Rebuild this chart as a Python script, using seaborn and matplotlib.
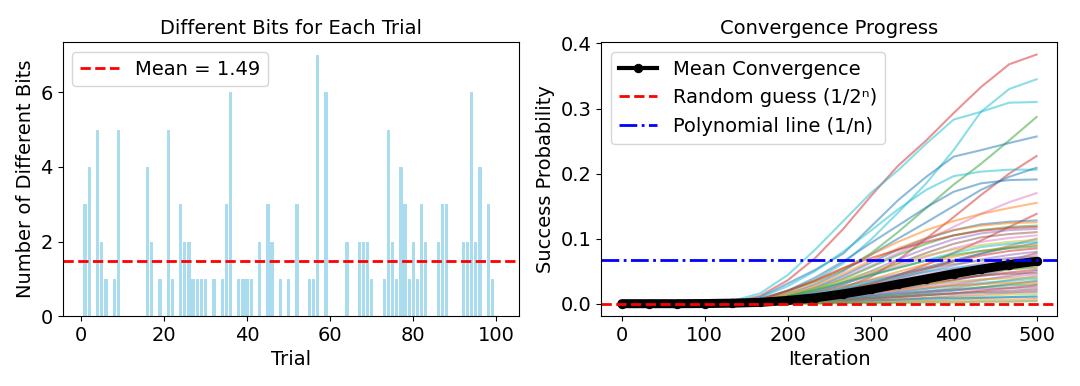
import matplotlib
matplotlib.use("Agg")
import matplotlib.pyplot as plt
import numpy as np
import pandas as pd
import seaborn as sns

# ---- left panel: different bits per trial (trials 1..100) ----
trials = list(range(1, 101))
bit_values = {
    1: 3, 2: 4, 4: 5, 5: 2, 6: 1, 8: 1, 9: 5, 16: 4, 17: 2, 19: 1, 21: 5, 22: 1,
    24: 3, 25: 2, 26: 2, 27: 1, 28: 1, 29: 1, 30: 1, 32: 1, 34: 1, 35: 3, 36: 6,
    38: 1, 39: 1, 40: 1, 41: 1, 43: 2, 45: 3, 46: 2, 48: 1, 50: 1, 52: 3, 55: 1,
    56: 1, 57: 7, 59: 6, 64: 2, 67: 2, 68: 2, 69: 2, 70: 1, 73: 1, 74: 5, 75: 2,
    76: 1, 77: 4, 78: 3, 79: 1, 80: 2, 81: 1, 82: 3, 83: 2, 86: 2, 87: 3, 88: 3,
    92: 2, 93: 2, 94: 6, 95: 2, 96: 4, 98: 3, 99: 1,
}
different_bits = [bit_values.get(t, 0) for t in trials]

# ---- right panel: convergence curves ----
iterations = [0, 33, 67, 100, 133, 167, 200, 233, 267, 300, 333, 367, 400, 433, 467, 500]

# the clearly visible top curves
top_curves = [
    [0, 0, 0, 0, 0.002, 0.012, 0.036, 0.070, 0.115, 0.165, 0.212, 0.251, 0.293, 0.333, 0.368, 0.383],
    [0, 0, 0, 0.001, 0.004, 0.016, 0.044, 0.083, 0.127, 0.170, 0.205, 0.246, 0.283, 0.295, 0.309, 0.310],
    [0, 0, 0, 0, 0.001, 0.006, 0.018, 0.036, 0.062, 0.098, 0.140, 0.185, 0.236, 0.295, 0.330, 0.345],
    [0, 0, 0, 0, 0.001, 0.006, 0.020, 0.034, 0.052, 0.077, 0.110, 0.147, 0.183, 0.215, 0.251, 0.287],
    [0, 0, 0, 0, 0.002, 0.010, 0.031, 0.052, 0.077, 0.118, 0.159, 0.195, 0.226, 0.236, 0.247, 0.257],
    [0, 0, 0, 0, 0, 0.002, 0.006, 0.013, 0.024, 0.041, 0.067, 0.100, 0.133, 0.167, 0.200, 0.227],
    [0, 0, 0, 0, 0.002, 0.009, 0.027, 0.050, 0.080, 0.112, 0.145, 0.175, 0.196, 0.203, 0.206, 0.206],
    [0, 0, 0, 0, 0.001, 0.005, 0.015, 0.030, 0.050, 0.075, 0.100, 0.125, 0.150, 0.175, 0.195, 0.209],
    [0, 0, 0, 0, 0.001, 0.007, 0.020, 0.040, 0.065, 0.093, 0.120, 0.148, 0.172, 0.185, 0.190, 0.191],
    [0, 0, 0, 0, 0.001, 0.004, 0.012, 0.024, 0.040, 0.058, 0.078, 0.098, 0.118, 0.138, 0.156, 0.170],
    [0, 0, 0, 0, 0.001, 0.006, 0.018, 0.034, 0.054, 0.075, 0.095, 0.113, 0.127, 0.138, 0.147, 0.155],
    [0, 0, 0, 0, 0, 0.002, 0.005, 0.011, 0.019, 0.030, 0.044, 0.060, 0.078, 0.097, 0.118, 0.138],
]
top_colors = ["#d62728", "#17becf", "#17becf", "#2ca02c", "#1f77b4", "#d62728",
              "#17becf", "#1f77b4", "#1f77b4", "#e377c2", "#ff7f0e", "#d62728"]

# the crowded band between 0.07 and 0.13
middle_curves = [
    [0, 0, 0, 0, 0.001, 0.004, 0.012, 0.025, 0.043, 0.063, 0.083, 0.100, 0.113, 0.122, 0.126, 0.128],
    [0, 0, 0, 0, 0.001, 0.005, 0.014, 0.028, 0.046, 0.066, 0.085, 0.101, 0.113, 0.120, 0.124, 0.125],
    [0, 0, 0, 0, 0.001, 0.004, 0.011, 0.022, 0.038, 0.056, 0.075, 0.092, 0.105, 0.113, 0.118, 0.120],
    [0, 0, 0, 0, 0.002, 0.007, 0.020, 0.036, 0.055, 0.070, 0.083, 0.095, 0.105, 0.112, 0.116, 0.118],
    [0, 0, 0, 0, 0.001, 0.003, 0.009, 0.019, 0.033, 0.050, 0.068, 0.085, 0.099, 0.108, 0.113, 0.115],
    [0, 0, 0, 0, 0.001, 0.003, 0.008, 0.017, 0.030, 0.046, 0.062, 0.078, 0.092, 0.102, 0.107, 0.110],
    [0, 0, 0, 0, 0.001, 0.003, 0.009, 0.018, 0.030, 0.044, 0.058, 0.072, 0.085, 0.095, 0.101, 0.105],
    [0, 0, 0, 0, 0, 0.001, 0.004, 0.009, 0.017, 0.027, 0.039, 0.052, 0.065, 0.077, 0.089, 0.100],
    [0, 0, 0, 0, 0.001, 0.005, 0.013, 0.024, 0.036, 0.049, 0.062, 0.074, 0.083, 0.090, 0.095, 0.098],
    [0, 0, 0, 0, 0.001, 0.004, 0.011, 0.020, 0.031, 0.043, 0.055, 0.067, 0.078, 0.087, 0.092, 0.095],
    [0, 0, 0, 0, 0, 0.003, 0.007, 0.014, 0.022, 0.033, 0.044, 0.056, 0.067, 0.077, 0.086, 0.093],
    [0, 0, 0, 0, 0.001, 0.003, 0.008, 0.016, 0.026, 0.037, 0.049, 0.061, 0.072, 0.081, 0.087, 0.090],
    [0, 0, 0, 0, 0.001, 0.004, 0.011, 0.021, 0.033, 0.044, 0.055, 0.066, 0.075, 0.081, 0.085, 0.088],
    [0, 0, 0, 0, 0, 0.002, 0.006, 0.012, 0.021, 0.031, 0.042, 0.054, 0.065, 0.074, 0.081, 0.085],
    [0, 0, 0, 0, 0, 0.002, 0.005, 0.011, 0.019, 0.028, 0.038, 0.049, 0.059, 0.068, 0.075, 0.080],
    [0, 0, 0, 0, 0, 0.001, 0.003, 0.007, 0.012, 0.020, 0.027, 0.036, 0.045, 0.055, 0.066, 0.078],
    [0, 0, 0, 0, 0, 0.002, 0.005, 0.010, 0.017, 0.026, 0.035, 0.045, 0.054, 0.062, 0.069, 0.075],
    [0, 0, 0, 0, 0.001, 0.004, 0.009, 0.017, 0.027, 0.036, 0.045, 0.054, 0.061, 0.066, 0.070, 0.072],
    [0, 0, 0, 0, 0, 0.002, 0.005, 0.010, 0.016, 0.024, 0.032, 0.041, 0.049, 0.056, 0.063, 0.068],
]

# the curves under the mean line
lower_curves = [
    [0, 0, 0, 0, 0.001, 0.003, 0.008, 0.016, 0.024, 0.033, 0.041, 0.049, 0.055, 0.060, 0.063, 0.065],
    [0, 0, 0, 0, 0, 0.001, 0.002, 0.006, 0.010, 0.016, 0.022, 0.029, 0.036, 0.044, 0.053, 0.062],
    [0, 0, 0, 0, 0, 0.002, 0.005, 0.009, 0.014, 0.020, 0.027, 0.035, 0.042, 0.048, 0.053, 0.058],
    [0, 0, 0, 0, 0.001, 0.003, 0.007, 0.013, 0.020, 0.028, 0.035, 0.041, 0.047, 0.051, 0.053, 0.055],
    [0, 0, 0, 0, 0, 0.002, 0.004, 0.008, 0.012, 0.018, 0.024, 0.031, 0.037, 0.043, 0.048, 0.052],
    [0, 0, 0, 0, 0, 0.001, 0.002, 0.005, 0.008, 0.013, 0.018, 0.023, 0.029, 0.036, 0.043, 0.050],
    [0, 0, 0, 0, 0, 0.002, 0.006, 0.011, 0.017, 0.024, 0.030, 0.035, 0.040, 0.043, 0.046, 0.047],
    [0, 0, 0, 0, 0, 0.001, 0.004, 0.007, 0.011, 0.016, 0.021, 0.027, 0.032, 0.037, 0.041, 0.045],
    [0, 0, 0, 0, 0, 0, 0.002, 0.004, 0.007, 0.011, 0.015, 0.019, 0.024, 0.030, 0.036, 0.042],
    [0, 0, 0, 0, 0, 0.002, 0.005, 0.010, 0.015, 0.020, 0.025, 0.030, 0.034, 0.037, 0.039, 0.040],
    [0, 0, 0, 0, 0, 0.001, 0.003, 0.006, 0.009, 0.013, 0.018, 0.023, 0.027, 0.032, 0.035, 0.038],
    [0, 0, 0, 0, 0, 0, 0.001, 0.003, 0.006, 0.009, 0.012, 0.016, 0.020, 0.025, 0.030, 0.035],
    [0, 0, 0, 0, 0, 0.002, 0.004, 0.008, 0.012, 0.017, 0.021, 0.025, 0.028, 0.030, 0.032, 0.033],
    [0, 0, 0, 0, 0, 0.001, 0.002, 0.005, 0.007, 0.011, 0.014, 0.018, 0.022, 0.025, 0.028, 0.030],
    [0, 0, 0, 0, 0, 0, 0.001, 0.003, 0.004, 0.007, 0.010, 0.013, 0.016, 0.020, 0.024, 0.028],
    [0, 0, 0, 0, 0, 0.001, 0.003, 0.006, 0.009, 0.013, 0.016, 0.019, 0.021, 0.023, 0.024, 0.025],
    [0, 0, 0, 0, 0, 0.001, 0.002, 0.003, 0.005, 0.008, 0.010, 0.013, 0.016, 0.018, 0.020, 0.022],
    [0, 0, 0, 0, 0, 0, 0.001, 0.002, 0.003, 0.005, 0.007, 0.009, 0.012, 0.014, 0.017, 0.020],
    [0, 0, 0, 0, 0, 0.001, 0.002, 0.004, 0.007, 0.009, 0.011, 0.014, 0.015, 0.017, 0.017, 0.018],
    [0, 0, 0, 0, 0, 0, 0.001, 0.002, 0.004, 0.005, 0.007, 0.009, 0.011, 0.012, 0.014, 0.015],
    [0, 0, 0, 0, 0, 0, 0, 0.001, 0.002, 0.003, 0.004, 0.006, 0.007, 0.009, 0.010, 0.012],
    [0, 0, 0, 0, 0, 0.001, 0.001, 0.002, 0.004, 0.005, 0.006, 0.008, 0.009, 0.009, 0.010, 0.010],
    [0, 0, 0, 0, 0, 0, 0.001, 0.001, 0.002, 0.002, 0.003, 0.004, 0.005, 0.006, 0.006, 0.007],
    [0, 0, 0, 0, 0, 0, 0, 0, 0.001, 0.001, 0.001, 0.002, 0.002, 0.003, 0.003, 0.004],
]

mean_curve = [0, 0, 0, 0.0002, 0.0008, 0.002, 0.005, 0.009, 0.015, 0.022, 0.030, 0.038, 0.046, 0.053, 0.060, 0.065]

n_qubits = 15

tab10 = sns.color_palette("tab10").as_hex()

curves = top_curves + middle_curves + lower_curves
colors = top_colors + [tab10[i % 10] for i in range(len(middle_curves) + len(lower_curves))]

rows = []
for k, curve in enumerate(curves):
    for it, p in zip(iterations, curve):
        rows.append({"trial": k, "iteration": it, "prob": p})
curve_df = pd.DataFrame(rows)

plt.rcParams["font.size"] = 14

fig, (ax1, ax2) = plt.subplots(1, 2, figsize=(10.8, 3.86), dpi=100)
fig.subplots_adjust(left=0.058, right=0.979, bottom=0.181, top=0.891, wspace=0.18)

# left
sns.barplot(x=trials, y=different_bits, native_scale=True, color="skyblue",
            alpha=0.7, saturation=1, errorbar=None, ax=ax1)
mean_bits = np.mean(different_bits)
ax1.axhline(mean_bits, color="red", linestyle="--", linewidth=2,
            label=f"Mean = {mean_bits:.2f}")
ax1.set_title("Different Bits for Each Trial", fontsize=14)
ax1.set_xlabel("Trial")
ax1.set_ylabel("Number of Different Bits")
ax1.set_xticks([0, 20, 40, 60, 80, 100])
ax1.set_yticks([0, 2, 4, 6])
ax1.set_xlim(-4.4, 105.4)
ax1.legend(loc="upper left")

# right
sns.lineplot(data=curve_df, x="iteration", y="prob", hue="trial", palette=colors,
             estimator=None, legend=False, alpha=0.5, linewidth=1.5, ax=ax2)
# thick band behind the mean markers
ax2.plot(iterations, mean_curve, color="black", linewidth=6.5,
         solid_capstyle="round", solid_joinstyle="round")
sns.lineplot(x=iterations, y=mean_curve, color="black", linewidth=3, marker="o",
             markersize=6, markeredgecolor="black", label="Mean Convergence", ax=ax2)
ax2.axhline(1 / 2 ** n_qubits, color="red", linestyle="--", linewidth=2,
            label="Random guess (1/2\u207f)")
ax2.axhline(1 / n_qubits, color="blue", linestyle="-.", linewidth=2,
            label="Polynomial line (1/n)")
ax2.set_title("Convergence Progress", fontsize=14)
ax2.set_xlabel("Iteration")
ax2.set_ylabel("Success Probability")
ax2.set_xticks([0, 100, 200, 300, 400, 500])
ax2.set_yticks([0.0, 0.1, 0.2, 0.3, 0.4])
ax2.legend(loc="upper left")

plt.savefig("out.png", dpi=100)
